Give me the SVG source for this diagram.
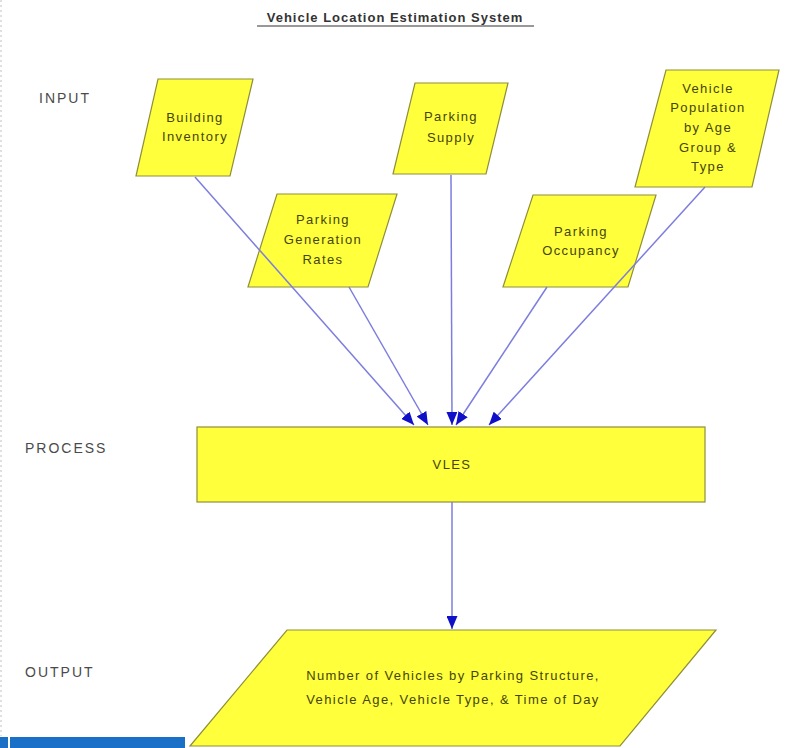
<svg xmlns="http://www.w3.org/2000/svg" width="790" height="748" viewBox="0 0 790 748">
  <style>
    .shape { fill: #ffff3c; stroke: #8f8f3a; stroke-width: 1.2; }
    .nt { font-family: "Liberation Sans", Arial, sans-serif; font-size: 13px; letter-spacing: 1.4px; fill: #45450c; text-anchor: middle; }
    .lbl { font-family: "Liberation Sans", Arial, sans-serif; font-size: 14px; letter-spacing: 2px; fill: #4a4a4a; }
    .title { font-family: "Liberation Sans", Arial, sans-serif; font-size: 13px; font-weight: bold; letter-spacing: 1px; fill: #333; text-anchor: middle; }
    .conn { stroke: #7d7de0; stroke-width: 1.5; fill: none; marker-end: url(#ah); }
  </style>
  <defs>
    <marker id="ah" markerUnits="userSpaceOnUse" markerWidth="13" markerHeight="11" refX="13" refY="5.5" orient="auto">
      <path d="M0,0 L13,5.5 L0,11 Z" fill="#1010c8"/>
    </marker>
  </defs>
  <rect width="790" height="748" fill="#fff"/>
  <line x1="1" y1="0" x2="1" y2="736" stroke="#c0c0c0" stroke-width="1" stroke-dasharray="2,3"/>

  <g id="title">
    <text class="title" x="395" y="22">Vehicle Location Estimation System</text>
    <line x1="257" y1="26" x2="534" y2="26" stroke="#333" stroke-width="1.2"/>
  </g>
  <g id="labels">
    <text class="lbl" x="39" y="103">INPUT</text>
    <text class="lbl" x="25" y="453">PROCESS</text>
    <text class="lbl" x="25" y="677">OUTPUT</text>
  </g>

  <g id="building-inventory">
    <polygon class="shape" points="158,79 253,79 230,176 136,176"/>
    <text class="nt" x="195" y="122">Building</text>
    <text class="nt" x="195" y="141">Inventory</text>
  </g>
  <g id="parking-generation-rates">
    <polygon class="shape" points="277,194 397,194 368,287 248,287"/>
    <text class="nt" x="323" y="224">Parking</text>
    <text class="nt" x="323" y="244">Generation</text>
    <text class="nt" x="323" y="264">Rates</text>
  </g>
  <g id="parking-supply">
    <polygon class="shape" points="415,83 508,83 486,174 393,174"/>
    <text class="nt" x="451" y="121">Parking</text>
    <text class="nt" x="451" y="142">Supply</text>
  </g>
  <g id="parking-occupancy">
    <polygon class="shape" points="533,195 656,195 628,287 503,287"/>
    <text class="nt" x="581" y="236">Parking</text>
    <text class="nt" x="581" y="255">Occupancy</text>
  </g>
  <g id="vehicle-population">
    <polygon class="shape" points="666,70 779,70 752,187 635,187"/>
    <text class="nt" x="708" y="93">Vehicle</text>
    <text class="nt" x="708" y="112">Population</text>
    <text class="nt" x="708" y="132">by Age</text>
    <text class="nt" x="708" y="152">Group &amp;</text>
    <text class="nt" x="708" y="171">Type</text>
  </g>
  <g id="vles">
    <rect class="shape" x="197" y="427" width="508" height="75"/>
    <text class="nt" x="452" y="469">VLES</text>
  </g>
  <g id="output">
    <polygon class="shape" points="287,630 716,630 620,746 190,746"/>
    <text class="nt" x="453" y="680">Number of Vehicles by Parking Structure,</text>
    <text class="nt" x="453" y="704">Vehicle Age, Vehicle Type, &amp; Time of Day</text>
  </g>

  <g id="connectors">
    <line class="conn" x1="195" y1="177" x2="414" y2="425"/>
    <line class="conn" x1="349" y1="287" x2="428" y2="425"/>
    <line class="conn" x1="451" y1="175" x2="452" y2="425"/>
    <line class="conn" x1="547" y1="287" x2="456" y2="425"/>
    <line class="conn" x1="705" y1="187" x2="489" y2="425"/>
    <line class="conn" x1="452" y1="502" x2="452" y2="629"/>
  </g>

  <g id="footer-bar">
    <rect x="0" y="737" width="8" height="11" fill="#1a6fc6"/>
    <rect x="10" y="737" width="175" height="11" fill="#1a6fc6"/>
  </g>
</svg>
